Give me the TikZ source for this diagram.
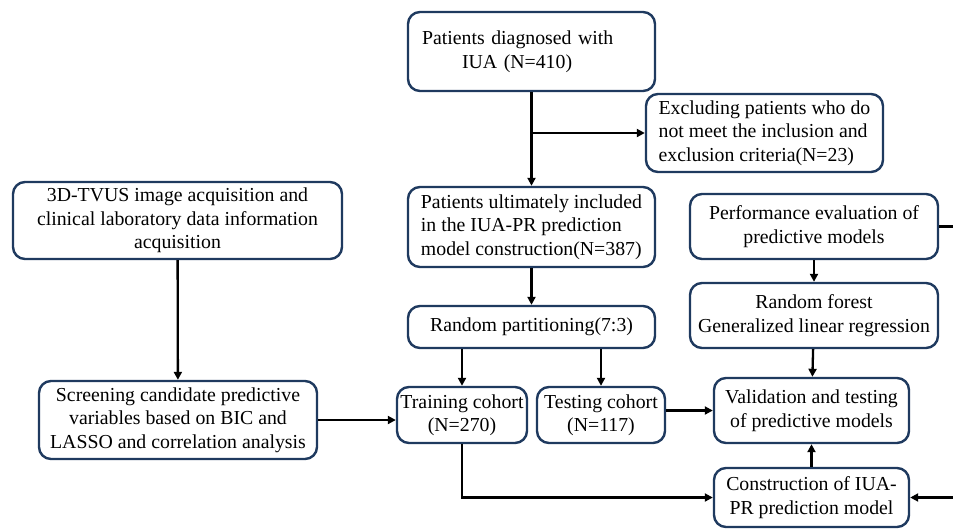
\documentclass[tikz,border=0pt]{standalone}
\usepackage{fontspec}
\setmainfont{Liberation Serif}
\usepackage{xcolor}
\usetikzlibrary{arrows.meta}
\usetikzlibrary{calc}
\definecolor{boxnavy}{HTML}{1F3A5F}
\tikzstyle{box}=[draw=boxnavy,line width=2.4pt,rounded corners=12pt,align=center,inner sep=0pt,font=\fontsize{19.8}{23.5}\selectfont]
\tikzstyle{flowline}=[line width=2.3pt]
\tikzstyle{flow}=[flowline,-{Triangle[length=8pt,width=8pt]}]
\begin{document}
\begin{tikzpicture}[x=1pt,y=-1pt]
	\clip (0,0) rectangle (953,531);
	% left column
	\node[box,minimum width=329pt,minimum height=77pt] (tvus) at (177.5,220.5)
	  {3D-TVUS image acquisition and\\clinical laboratory data information\\acquisition};
	\node[box,minimum width=278pt,minimum height=78pt] (screen) at (178,420)
	  {Screening candidate predictive\\variables based on BIC and\\LASSO and correlation analysis};
	% middle column
	\node[box,text width=219pt,inner xsep=14pt,align=left,minimum height=79pt] (diag) at (531.5,51.5)
	  {Patients diagnosed with\\\hspace*{40pt}IUA (N=410)};
	\node[box,align=left,minimum width=237pt,minimum height=78pt] (excl) at (764.5,133)
	  {Excluding patients who do\\not meet the inclusion and\\exclusion criteria(N=23)};
	\node[box,align=left,minimum width=247pt,minimum height=80pt] (incl) at (531.5,227)
	  {Patients ultimately included\\in the IUA-PR prediction\\model construction(N=387)};
	\node[box,minimum width=247pt,minimum height=42pt] (part) at (531.5,327) {Random partitioning(7:3)};
	\node[box,minimum width=130pt,minimum height=56pt] (train) at (462,415) {Training cohort\\(N=270)};
	\node[box,minimum width=128pt,minimum height=56pt] (test) at (601,415) {Testing cohort\\(N=117)};
	% right column
	\node[box,minimum width=248pt,minimum height=65pt] (perf) at (814,226.5) {Performance evaluation of\\predictive models};
	\node[box,minimum width=248pt,minimum height=65pt] (forest) at (814,315.5) {Random forest\\Generalized linear regression};
	\node[box,minimum width=195pt,minimum height=65pt] (valid) at (811.5,410.5) {Validation and testing\\of predictive models};
	\node[box,minimum width=195pt,minimum height=59pt] (constr) at (811.5,497.5) {Construction of IUA-\\PR prediction model};
	\coordinate (split) at (diag.south |- excl.west);
	\draw[flow] (diag) -- (incl);
	\draw[flow] (split) -- (excl.west);
	\draw[flow] (incl) -- (part);
	\draw[flow] (train.north |- part.south) -- (train.north);
	\draw[flow] (test.north |- part.south) -- (test.north);
	\draw[flow] (tvus) -- (screen);
	\draw[flow] (screen.east) -- (screen.east -| train.west);
	\draw[flow] (test.east |- valid.west) -- (valid.west);
	\draw[flow] (train.south) |- (constr.west);
	\draw[flow] (constr) -- (valid);
	\draw[flow] (perf) -- (forest);
	\draw[flow] (forest) -- (valid);
	\draw[flow] (perf.east) -- ++(40,0) |- (constr.east);
\end{tikzpicture}
\end{document}
